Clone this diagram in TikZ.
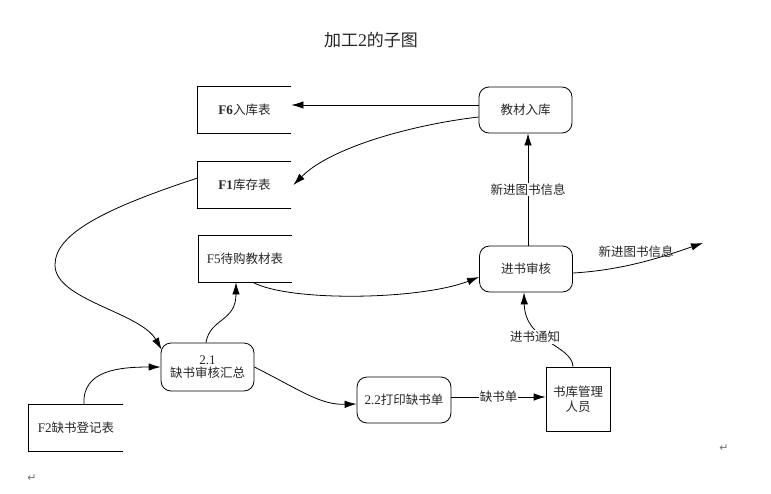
\documentclass[tikz,border=0pt]{standalone}
\usepackage{fontspec}
\setmainfont{Liberation Serif}[Scale=1.05]
\newfontfamily\zh{Noto Sans CJK SC}
\newfontfamily\symf{DejaVu Sans}
\usetikzlibrary{arrows.meta}
\begin{document}
\begin{tikzpicture}[x=1pt,y=-1pt,
  every node/.style={font=\fontsize{12.5}{15}\selectfont, text=black!85},
  proc/.style={draw, rounded corners=10pt, minimum width=93pt, minimum height=46pt, align=center, inner sep=2pt},
  storebox/.style={minimum width=93pt, minimum height=46pt, inner sep=0pt},
  ext/.style={draw, minimum width=64pt, minimum height=64pt, align=center, inner sep=2pt},
  arr/.style={-{Latex[length=12pt,width=7.5pt]}, line width=0.8pt},
  lab/.style={fill=white, inner sep=1pt},
  line width=0.8pt]
\useasboundingbox (0,0) rectangle (771,493);
% title
\node[font=\fontsize{17}{20}\selectfont] (title) at (371,40) {\zh 加工\rmfamily 2\zh 的子图};
% stores
\node[storebox] (f6) at (244.5,109.5) {\textbf{F6}\zh 入库表};
\node[storebox] (f1) at (244.5,185) {\textbf{F1}\zh 库存表};
\node[storebox] (f5) at (245,259) {F5\zh 待购教材表};
\node[storebox, minimum width=94pt] (f2) at (76,427.5) {F2\zh 缺书登记表};
\foreach \s in {f6,f1,f5,f2}
  \draw (\s.north east) -- (\s.north west) -- (\s.south west) -- (\s.south east);
% processes
\node[proc] (jc) at (525.5,110) {\zh 教材入库};
\node[proc] (js) at (526,269) {\zh 进书审核};
\node[proc, minimum height=48pt] (p21) at (207.5,367) {2.1\\[-2pt]\zh 缺书审核汇总};
\node[proc, minimum width=94pt] (p22) at (404,400) {2.2\zh 打印缺书单};
\node[ext] (sk) at (578,399) {\zh 书库管理\\\zh 人员};
\coordinate (outp) at (703,243);
% flows
\draw[arr] ([yshift=5pt]jc.west) -- ([yshift=5pt]jc.west -| f6.east);
\draw[arr] ([yshift=-7pt]jc.west) .. controls (410,125) and (330,148) .. ([xshift=2pt]f1.east);
\draw[arr] ([xshift=2pt]js.north) -- node[lab] (l1) {\zh 新进图书信息} ([xshift=2pt]js.north |- jc.south);
\draw[arr] ([yshift=7pt]f1.west) .. controls (100,210) and (55,235) .. (55,265)
   .. controls (55,300) and (140,312) .. ([shift={(1pt,-7pt)}]p21.north west);
\draw[arr] ([xshift=8pt]f2.north) .. controls (82,370) and (120,367) .. (p21.west);
\draw[arr] ([xshift=-1.5pt]p21.north) .. controls (210,318) and (236,322) .. ([xshift=-9pt]f5.south);
\draw[arr] ([xshift=8pt]f5.south) .. controls (290,302) and (420,300) .. ([yshift=-8pt]js.west);
\draw[arr] ([yshift=-4pt]js.east) .. controls (625,270) and (665,256) .. (outp);
\node[lab, fill=none] (l2) at (636,252) {\zh 新进图书信息};
\draw[arr] ([xshift=-5pt]sk.north) .. controls (572,345) and (525,342) .. ([xshift=-2pt]js.south);
\node[lab] (l3) at (535,337) {\zh 进书通知};
\draw[arr] (p21.east) .. controls (300,390) and (320,405) .. ([yshift=-4pt]p22.west);
\draw[arr] ([yshift=3pt]p22.east) -- node[lab] (l4) {\zh 缺书单} ([yshift=3pt]p22.east -| sk.west);
% paragraph marks
\node[font=\symf\fontsize{11}{12}\selectfont, text=black!55] (pm1) at (32,478) {↵};
\node[font=\symf\fontsize{11}{12}\selectfont, text=black!55] (pm2) at (724,448) {↵};
\end{tikzpicture}
\end{document}
